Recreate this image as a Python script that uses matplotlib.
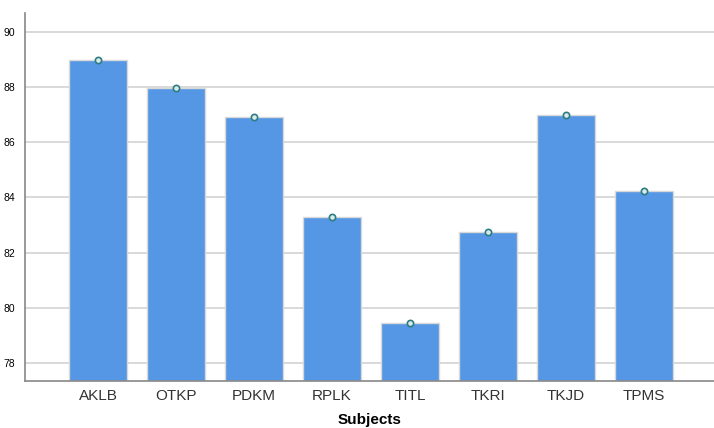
import matplotlib.pyplot as plt

plt.rcParams['font.family'] = ['Liberation Sans', 'DejaVu Sans']

subjects = ['AKLB', 'OTKP', 'PDKM', 'RPLK', 'TITL', 'TKRI', 'TKJD', 'TPMS']
means = [88.99, 87.95, 86.92, 83.30, 79.46, 82.75, 86.99, 84.24]
yticks = [78, 80, 82, 84, 86, 88, 90]

fig = plt.figure(figsize=(7.14, 4.28), dpi=100)
ax = fig.add_axes([0.035, 0.11, 0.965, 0.86])
x = range(len(subjects))
ax.bar(x, [m - 77.35 for m in means], bottom=77.35, width=0.74,
       color='#5596e5', edgecolor='#d9d9d9', lw=1.0, zorder=2)
ax.plot(x, means, 'o', ms=4.5, mfc='#d8eaea', mec='#2e7d82', mew=1.2,
        ls='none', zorder=3)
ax.set_ylim(77.35, 90.69)
ax.set_xlim(-0.94, 7.9)
ax.set_yticks(yticks)
ax.set_yticklabels([str(t) for t in yticks], fontsize=7.5)
ax.set_xticks(list(x))
ax.set_xticklabels(subjects, fontsize=11, color='#333333')
ax.tick_params(length=0, pad=6)
ax.tick_params(axis='y', pad=7)
ax.grid(True, axis='y', color='#d0d0d0', lw=1.1, zorder=0)
for s in ['top', 'right']:
    ax.spines[s].set_visible(False)
for s in ['left', 'bottom']:
    ax.spines[s].set_color('#888888')
    ax.spines[s].set_linewidth(1.2)
ax.set_xlabel('Subjects', fontsize=11, fontweight='bold', labelpad=7)
fig.savefig('out.png', dpi=100)
